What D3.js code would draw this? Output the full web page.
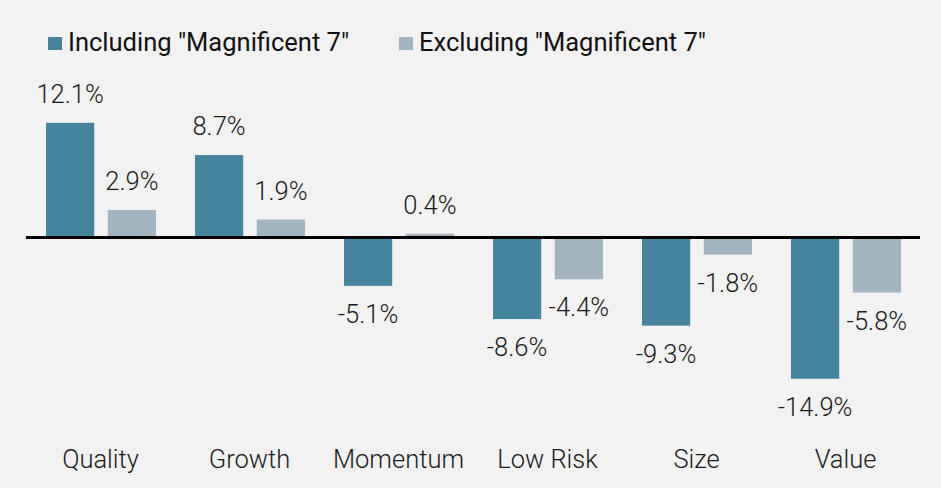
<!DOCTYPE html>
<html>
<head>
<meta charset="utf-8">
<script src="https://cdn.jsdelivr.net/npm/d3@7"></script>
<style>
  html, body { margin: 0; padding: 0; background: #f2f2f2; }
  svg { display: block; font-family: Roboto, "Noto Sans", sans-serif; }
</style>
</head>
<body>
<svg width="941" height="488"></svg>
<script>
var categories = ["Quality", "Growth", "Momentum", "Low Risk", "Size", "Value"];
var seriesNames = ['Including "Magnificent 7"', 'Excluding "Magnificent 7"'];
var including = [12.1, 8.7, -5.1, -8.6, -9.3, -14.9];
var excluding = [2.9, 1.9, 0.4, -4.4, -1.8, -5.8];
var colors = ["#44849f", "#a2b4c0"];

var svg = d3.select("svg"),
    width = +svg.attr("width"),
    height = +svg.attr("height");

svg.append("rect").attr("width", width).attr("height", height).attr("fill", "#f2f2f2");

var x0 = d3.scaleBand().domain(categories).range([26, 920]);
var x1 = d3.scaleBand().domain(seriesNames).range([20, 130]).paddingInner(0.22);
var y = d3.scaleLinear().domain([-16, 13]).range([389.2, 114.3]);

// rows for the grouped bars
var rows = [];
categories.forEach(function(c, i) {
    rows.push({cat: c, s: 0, v: including[i]});
    rows.push({cat: c, s: 1, v: excluding[i]});
});

var g = svg.append("g");

g.selectAll("rect.bar")
    .data(rows)
    .join("rect")
      .attr("class", "bar")
      .attr("x", d => x0(d.cat) + x1(seriesNames[d.s]))
      .attr("width", x1.bandwidth())
      .attr("y", d => y(Math.max(0, d.v)))
      .attr("height", d => Math.abs(y(d.v) - y(0)))
      .attr("fill", d => colors[d.s]);

g.selectAll("text.val")
    .data(rows)
    .join("text")
      .attr("class", "val")
      .attr("x", d => x0(d.cat) + x1(seriesNames[d.s]) + x1.bandwidth() / 2)
      .attr("y", d => d.v >= 0 ? y(d.v) - 20 : y(d.v) + 37)
      .attr("text-anchor", "middle")
      .attr("font-size", "25.5px")
      .attr("font-weight", 300)
      .attr("fill", "#1a1a1a")
      .text(d => d.v.toFixed(1) + "%");

// zero line
g.append("line")
    .attr("x1", 26).attr("x2", 920)
    .attr("y1", y(0)).attr("y2", y(0))
    .attr("stroke", "#000")
    .attr("stroke-width", 3);

// category labels
var xAxis = d3.axisBottom(x0).tickSize(0).tickPadding(0);
var ax = svg.append("g").attr("transform", "translate(0,450)").call(xAxis);
ax.select(".domain").remove();
ax.selectAll("text")
    .attr("font-size", "25.5px")
    .attr("font-weight", 300)
    .attr("font-family", "Roboto, sans-serif")
    .attr("fill", "#1a1a1a");

// legend
var legendX = [48, 399];
var legend = svg.append("g").selectAll("g")
    .data(seriesNames)
    .join("g")
      .attr("transform", (d, i) => "translate(" + legendX[i] + ",37)");
legend.append("rect")
    .attr("width", 14).attr("height", 13)
    .attr("fill", (d, i) => colors[i]);
legend.append("text")
    .attr("x", 20).attr("y", 13.5)
    .attr("font-size", "25.5px")
    .attr("fill", "#111")
    .text(d => d);
</script>
</body>
</html>
